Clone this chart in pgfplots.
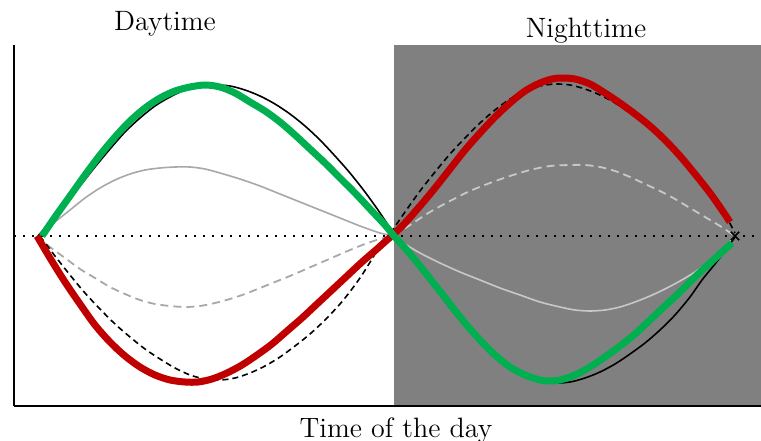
\documentclass[border=0pt]{standalone}
\usepackage{pgfplots}
\pgfplotsset{compat=1.18}
\usetikzlibrary{calc}
\definecolor{cgreen}{HTML}{00B050}
\definecolor{cred}{HTML}{C00000}
\definecolor{cbg}{HTML}{808080}
\definecolor{gday}{HTML}{A8A8A8}
\definecolor{gnight}{HTML}{C8C8C8}
\begin{document}
\begin{tikzpicture}
\begin{axis}[
  scale only axis, width=373.5pt, height=180.5pt,
  xmin=14, xmax=761, ymin=-170, ymax=191,
  axis x line=bottom, axis y line=left,
  axis line style={-, black, line width=0.9pt},
  xtick=\empty, ytick=\empty,
  clip=false, axis on top,
]
% night background
\addplot[draw=none, fill=cbg] coordinates {(394,-170) (761,-170) (761,191) (394,191)} -- cycle;
% zero line
\addplot[black, line width=0.9pt, dash pattern=on 0.9pt off 3.6pt] coordinates {(14,0) (761,0)};
% gray solid (day / night)
\addplot[gday, line width=0.8pt, smooth] coordinates {(38,0) (55,14) (70,26) (85,38) (100,48) (115,56) (130,62) (145,66) (160,68) (175,69) (190,69) (205,67) (220,63) (240,57) (260,50) (280,42) (300,34) (320,26) (340,18) (360,10) (380,3) (394,0)};
\addplot[gnight, line width=0.8pt, smooth] coordinates {(394,0) (405,-8) (420,-17) (440,-27) (460,-36) (480,-44) (500,-52) (520,-59) (540,-66) (560,-71) (575,-74) (590,-75) (605,-74) (620,-71) (635,-66) (650,-60) (665,-53) (680,-45) (695,-36) (710,-25) (722,-14) (735,0)};
% gray dashed
\addplot[gday, line width=0.9pt, smooth, dash pattern=on 4pt off 2.5pt] coordinates {(37,0) (50,-11) (65,-22) (80,-33) (95,-42) (110,-51) (125,-58) (140,-64) (155,-68) (170,-70) (185,-71) (200,-70) (215,-67) (230,-63) (245,-58) (260,-52) (275,-46) (290,-40) (305,-33.5) (320,-27) (335,-20.5) (350,-14) (365,-8) (380,-3) (394,0)};
\addplot[gnight, line width=0.9pt, smooth, dash pattern=on 4pt off 2.5pt] coordinates {(394,0) (410,11) (430,24) (450,35) (470,45) (490,53) (510,60) (530,66) (550,70) (570,71) (585,71) (600,69) (615,65) (630,59) (645,52) (660,45) (675,37) (690,28) (705,19) (720,10) (735,0)};
% black solid
\addplot[black, line width=0.8pt, smooth] coordinates {(38,0) (50,14) (65,32) (80,50) (95,69) (110,87) (125,104) (140,118) (155,130) (170,139) (185,146) (200,150) (215,151) (230,150) (245,146) (260,140) (275,132) (290,122) (305,110) (320,96) (335,80) (350,63) (365,44) (378,26) (388,11) (394,1)
 (405,-14) (420,-33) (435,-52) (450,-72) (465,-90) (480,-106) (495,-120) (510,-131) (525,-140) (540,-145) (555,-147) (570,-146) (585,-142) (600,-136) (615,-128) (630,-118) (645,-107) (660,-94) (675,-79) (690,-61) (702,-44) (715,-28) (725,-15) (735,-1)};
% black dashed
\addplot[black, line width=0.8pt, smooth, dash pattern=on 3pt off 2pt] coordinates {(40,0) (55,-20) (70,-39) (85,-57) (100,-73) (115,-88) (130,-101) (145,-113) (160,-123) (175,-132) (190,-139) (205,-143) (220,-144) (235,-142) (250,-137) (265,-130) (280,-121) (295,-110) (310,-98) (325,-84) (340,-68) (352,-53) (362,-39) (372,-23) (380,-10) (388,0)
 (394,8) (405,24) (420,45) (435,64) (450,82) (465,98) (480,113) (495,126) (510,137) (525,145) (540,150) (555,152) (570,151) (585,147) (600,141) (615,133) (630,123) (645,112) (660,99) (675,85) (690,69) (705,51) (718,33) (727,18) (735,3)};
\addplot[black, only marks, mark=x, mark size=3pt, line width=0.8pt] coordinates {(735,0)};
% red
\addplot[cred, line width=3.5pt, smooth] coordinates {(37,0) (50,-22) (65,-46) (80,-68) (95,-89) (110,-106) (125,-120) (140,-131) (155,-139) (170,-144) (185,-146) (198,-146) (212,-143) (227,-137) (242,-129) (257,-119) (272,-108) (287,-95) (302,-82) (317,-68) (332,-54) (347,-40) (362,-26) (377,-13) (387,-4) (394,2)
 (405,13) (420,30) (435,48) (450,67) (465,86) (480,103) (495,119) (510,133) (525,145) (540,153) (552,157) (562,158) (575,157) (590,152) (605,143) (620,133) (635,122) (650,110) (665,96) (680,80) (695,62) (710,43) (722,26) (730,14)};
% green
\addplot[cgreen, line width=3.5pt, smooth] coordinates {(42,0) (55,19) (70,40) (85,61) (100,81) (115,99) (130,115) (145,128) (160,138) (175,145) (190,149) (205,151) (220,149) (235,143) (250,134) (265,125) (280,114) (295,101) (310,87) (325,73) (340,58) (355,43) (370,27) (385,11) (394,0)
 (405,-12) (420,-30) (435,-49) (450,-68) (465,-87) (480,-104) (495,-119) (510,-131) (525,-139) (540,-144) (550,-145) (560,-144) (575,-139) (590,-131) (605,-121) (620,-110) (635,-98) (650,-84) (665,-70) (680,-56) (695,-41) (710,-27) (722,-16) (732,-7)};
% labels
\node[anchor=base, font=\fontsize{14}{16}\selectfont] at (axis cs:165,205) {Daytime};
\node[anchor=base, font=\fontsize{14}{16}\selectfont] at (axis cs:586,199) {Nighttime};
\node[anchor=base, font=\fontsize{14}{16}\selectfont] at (axis cs:396,-201) {Time of the day};
\end{axis}
\pgfresetboundingbox
\path[use as bounding box] ($(current axis.south west)+(-7pt,-17pt)$) rectangle ($(current axis.north east)+(0,22.5pt)$);
\end{tikzpicture}
\end{document}
